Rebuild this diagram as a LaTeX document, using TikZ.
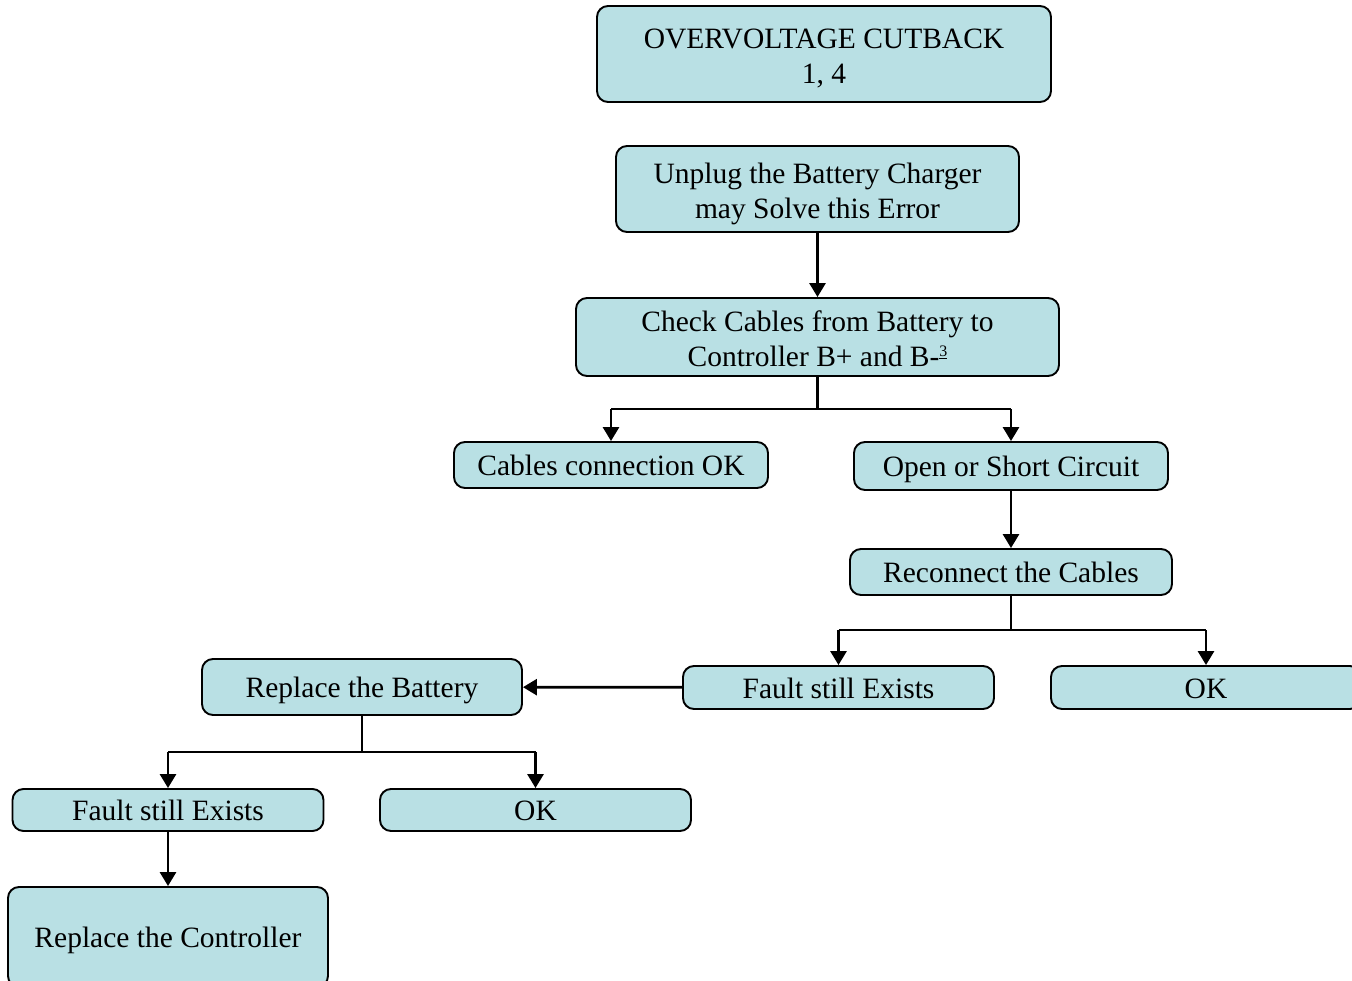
\documentclass[tikz,border=0pt]{standalone}
\usepackage{fontspec}
\setmainfont{Liberation Serif}
\usetikzlibrary{arrows.meta}
\definecolor{boxfill}{RGB}{185,224,228}
% two-line label whose reference point is the baseline of its last line
\newcommand{\twolines}[2]{\begin{tabular}[b]{@{}c@{}}#1\\#2\end{tabular}}
\begin{document}
\begin{tikzpicture}[x=1pt,y=-1pt,
  box/.style={draw=black, line width=1.9pt, fill=boxfill, rounded corners=11pt,
    inner sep=0pt, font=\fontsize{29.5}{34.5}\selectfont,
    text height=22pt, text depth=1pt},
  box2/.style={box, text height=60pt, text depth=1pt},
  link/.style={line width=2.8pt, -{Triangle[length=14pt,width=16pt]}},
  plain/.style={line width=2.8pt}]
\useasboundingbox (0,0) rectangle (1352,981);
\clip (0,0) rectangle (1352,981);

% boxes
\node[box2, minimum width=454pt, minimum height=96pt] (top) at (824,54)
  {\twolines{OVERVOLTAGE CUTBACK}{1, 4}};
\node[box2, minimum width=403pt, minimum height=86pt] (unplug) at (817.5,189)
  {\twolines{Unplug the Battery Charger}{may Solve this Error}};
\node[box2, minimum width=483pt, minimum height=78pt] (check) at (817.5,337)
  {\twolines{Check Cables from Battery to}{Controller B+ and B-\raisebox{0.35em}{\fontsize{16}{16}\selectfont\underline{3}}}};
\node[box, minimum width=314pt, minimum height=46pt] (cok) at (611,465)
  {Cables connection OK};
\node[box, minimum width=314pt, minimum height=48pt] (open) at (1011,466)
  {Open or Short Circuit};
\node[box, minimum width=322pt, minimum height=46pt] (recon) at (1011,572)
  {Reconnect the Cables};
\node[box, minimum width=311pt, minimum height=43pt] (faultR) at (838.5,687.5)
  {Fault still Exists};
\node[box, minimum width=310pt, minimum height=43pt] (okR) at (1206,687.5)
  {OK};
\node[box, minimum width=320pt, minimum height=56pt] (batt) at (362,687)
  {Replace the Battery};
\node[box, minimum width=311pt, minimum height=42pt] (faultL) at (168,810)
  {Fault still Exists};
\node[box, minimum width=311pt, minimum height=42pt] (okL) at (535.5,810)
  {OK};
\node[box, minimum width=320pt, minimum height=100pt] (ctrl) at (168,937)
  {Replace the Controller};

% branch points
\coordinate (s1) at (817.5,409);
\coordinate (s1l) at (611,409);
\coordinate (s1r) at (1011,409);
\coordinate (s2) at (1011,630);
\coordinate (s2l) at (838.5,630);
\coordinate (s2r) at (1206,630);
\coordinate (s3) at (362,752);
\coordinate (s3l) at (168,752);
\coordinate (s3r) at (535.5,752);

% connectors
\draw[link] (unplug) -- (check);
\draw[plain] (check.south) -- (s1);
\draw[plain] (s1l) -- (s1r);
\draw[link] (s1l) -- (cok.north);
\draw[link] (s1r) -- (open.north);
\draw[link] (open) -- (recon);
\draw[plain] (recon.south) -- (s2);
\draw[plain] (s2l) -- (s2r);
\draw[link] (s2l) -- (faultR.north);
\draw[link] (s2r) -- (okR.north);
\draw[link] (faultR) -- (batt);
\draw[plain] (batt.south) -- (s3);
\draw[plain] (s3l) -- (s3r);
\draw[link] (s3l) -- (faultL.north);
\draw[link] (s3r) -- (okL.north);
\draw[link] (faultL) -- (ctrl);
\end{tikzpicture}
\end{document}
